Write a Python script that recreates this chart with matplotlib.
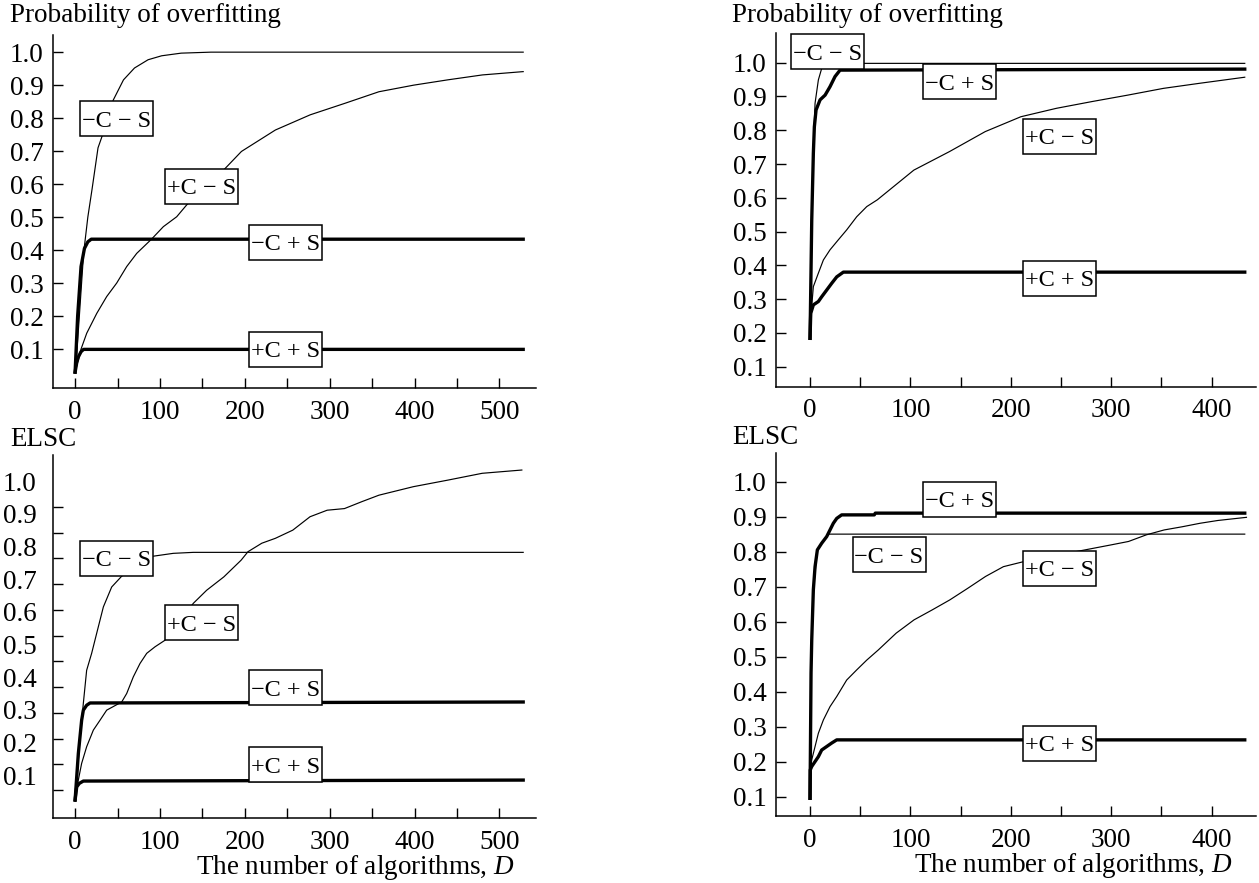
import matplotlib
matplotlib.use("Agg")
import matplotlib.pyplot as plt
from matplotlib.patches import Rectangle

plt.rcParams["font.family"] = ["Liberation Serif", "DejaVu Serif"]
plt.rcParams["mathtext.fontset"] = "custom"
plt.rcParams["mathtext.it"] = "Liberation Serif:italic"
plt.rcParams["mathtext.rm"] = "Liberation Serif"

W, H = 1259, 883
FS = 19.5

# ── data (D = number of algorithms) ──
# top-left: probability of overfitting
tl_d_mcms = [0, 2, 5, 10, 15, 20, 27, 33, 40, 45, 57, 70, 86, 102, 125, 160, 528]
tl_v_mcms = [0.03, 0.09, 0.2, 0.39, 0.5, 0.585, 0.71, 0.754, 0.82, 0.855, 0.916, 0.952, 0.977, 0.989, 0.997, 1.0, 1.0]
tl_d_mcps = [0, 3, 7, 11, 15, 19, 528]
tl_v_mcps = [0.03, 0.2, 0.35, 0.405, 0.425, 0.433, 0.433]
tl_d_pcms = [0, 3, 7, 13.7, 25.5, 37.2, 49, 60.8, 72.6, 90, 104, 119.7, 131.5, 177, 196, 236, 277, 318, 358, 399, 439, 480, 528]
tl_v_pcms = [0.03, 0.06, 0.1, 0.148, 0.208, 0.259, 0.30, 0.35, 0.39, 0.433, 0.471, 0.501, 0.537, 0.648, 0.699, 0.764, 0.81, 0.845, 0.88, 0.90, 0.916, 0.931, 0.941]
tl_d_pcps = [0, 2, 4, 7, 10, 528]
tl_v_pcps = [0.03, 0.06, 0.077, 0.092, 0.099, 0.099]

# top-right: probability of overfitting
tr_d_mcms = [0, 1.5, 3.3, 5, 8.3, 11.6, 15, 433]
tr_v_mcms = [0.184, 0.5, 0.75, 0.88, 0.949, 0.983, 0.998, 0.998]
tr_d_mcps = [0, 1.7, 3.3, 4.3, 6, 10, 15, 19.9, 24.9, 29.9, 433]
tr_v_mcps = [0.184, 0.534, 0.732, 0.81, 0.86, 0.89, 0.904, 0.929, 0.959, 0.978, 0.981]
tr_d_pcms = [0, 3.3, 8.3, 13.3, 19.9, 28, 36.5, 46.5, 56.5, 67, 103.4, 139, 174.5, 210, 245.5, 281, 316.5, 352, 388, 433]
tr_v_pcms = [0.22, 0.337, 0.377, 0.416, 0.446, 0.475, 0.505, 0.544, 0.574, 0.594, 0.682, 0.737, 0.796, 0.84, 0.865, 0.885, 0.904, 0.924, 0.939, 0.957]
tr_d_pcps = [0, 0.7, 3.3, 8.3, 11.6, 16.6, 21.6, 26.6, 33.2, 433]
tr_v_pcps = [0.184, 0.258, 0.283, 0.293, 0.307, 0.327, 0.347, 0.366, 0.38, 0.38]

# bottom-left: ELSC
bl_d_mcms = [0, 3, 6, 9.7, 13.6, 19.5, 25.4, 33.3, 43.1, 54.9, 91.4, 115.7, 139.3, 528]
bl_v_mcms = [0.02, 0.12, 0.22, 0.32, 0.421, 0.473, 0.534, 0.615, 0.676, 0.709, 0.77, 0.779, 0.782, 0.782]
bl_d_mcps = [0, 3.8, 7.7, 9.7, 13.6, 17.6, 528]
bl_v_mcps = [0.024, 0.166, 0.268, 0.299, 0.314, 0.321, 0.324]
bl_d_pcms = [0, 3.8, 7.7, 13.6, 21.5, 29.3, 37.2, 54.9, 60.8, 68.6, 76.5, 84.4, 94.2, 105.9, 139.3, 155, 175.3,
             195.6, 203.7, 220, 236, 256.5, 276.8, 297, 317.4, 337.7, 358, 398.5, 439, 479.7, 526.4]
bl_v_pcms = [0.024, 0.085, 0.136, 0.187, 0.238, 0.268, 0.299, 0.324, 0.35, 0.401, 0.442, 0.473, 0.493, 0.513, 0.626, 0.666, 0.707,
             0.758, 0.784, 0.81, 0.825, 0.85, 0.891, 0.911, 0.916, 0.937, 0.957, 0.983, 1.003, 1.024, 1.034]
bl_d_pcps = [0, 1.9, 5, 9.7, 528]
bl_v_pcps = [0.024, 0.064, 0.075, 0.082, 0.085]

# bottom-right: ELSC
br_d_mcms = [0, 1, 3.3, 7.3, 11.6, 16.6, 18.3, 433]
br_v_mcms = [0.095, 0.453, 0.691, 0.805, 0.824, 0.843, 0.85, 0.85]
br_d_mcps = [0, 1, 1.7, 3.3, 5, 7.3, 11.6, 16.6, 19.9, 23.2, 26.6, 31.5, 64, 65, 433]
br_v_mcps = [0.095, 0.453, 0.548, 0.691, 0.757, 0.805, 0.824, 0.843, 0.862, 0.881, 0.895, 0.905, 0.905, 0.91, 0.91]
br_d_pcms = [0, 1.7, 5, 8.3, 13.3, 19.9, 26.6, 36.5, 46.5, 56.5, 68, 85.8, 103.6, 121.4, 139.2, 157, 174.8, 192.6,
             212.2, 299.4, 317.2, 335, 352.8, 370.6, 388.4, 406.2, 434.7]
br_v_pcms = [0.167, 0.205, 0.243, 0.281, 0.319, 0.357, 0.386, 0.433, 0.462, 0.49, 0.519, 0.567, 0.605, 0.633, 0.662, 0.695, 0.729, 0.757,
             0.771, 0.819, 0.829, 0.848, 0.862, 0.871, 0.881, 0.889, 0.898]
br_d_pcps = [0, 0.2, 1.7, 5, 8.3, 11.6, 16.6, 21.6, 26.6, 33, 433]
br_v_pcps = [0.095, 0.176, 0.186, 0.2, 0.214, 0.233, 0.243, 0.253, 0.262, 0.262, 0.262]

y_labels = [0.1, 0.2, 0.3, 0.4, 0.5, 0.6, 0.7, 0.8, 0.9, 1.0]
MCMS, MCPS, PCMS, PCPS = "\u2212C \u2212 S", "\u2212C + S", "+C \u2212 S", "+C + S"
BOX_W, BOX_H = 73, 35  # label box size, px


def px_axes(fig, left, top, right, bottom):
    ax = fig.add_axes([left / W, 1 - bottom / H, (right - left) / W, (bottom - top) / H])
    ax._px = (right - left, bottom - top)
    return ax


def panel(ax, curves, boxes, xlim, ylim, xmax, bl_ticks=None):
    for d, v, thick in curves:
        ax.plot(d, v, color="black", lw=2.4 if thick else 0.85, solid_joinstyle="round", zorder=3)
    ax.set_xlim(*xlim); ax.set_ylim(*ylim)
    # box size in data units
    bw = BOX_W * (xlim[1] - xlim[0]) / ax._px[0]
    bh = BOX_H * (ylim[1] - ylim[0]) / ax._px[1]
    for txt, (bx, by) in boxes.items():
        ax.add_patch(Rectangle((bx - bw / 2, by - bh / 2), bw, bh, fc="white", ec="black",
                               lw=1.1, zorder=5, clip_on=False))
        ax.text(bx, by, txt, ha="center", va="center_baseline", fontsize=17.5, zorder=6)
    for s in ("top", "right"):
        ax.spines[s].set_visible(False)
    for s in ("left", "bottom"):
        ax.spines[s].set_linewidth(1.1)
    xt = list(range(0, xmax + 1, 50))
    ax.set_xticks(xt)
    ax.set_xticklabels([str(t) if t % 100 == 0 else "" for t in xt])
    ax.set_yticks(y_labels)
    ax.set_yticklabels([f"{t:.1f}" for t in y_labels])
    ax.tick_params(direction="in", length=7.5, width=1.0, labelsize=FS, colors="black")
    ax.tick_params(axis="x", pad=8.5)
    ax.tick_params(axis="y", pad=6.5)
    if bl_ticks is not None:
        # this panel has tick marks that do not line up with its labels
        ax.tick_params(axis="y", which="major", length=0, pad=11.5)
        ax.set_yticks(bl_ticks, minor=True)
        ax.tick_params(axis="y", which="minor", direction="in", length=7.5, width=1.0)
    ax.patch.set_alpha(0)


fig = plt.figure(figsize=(W / 100, H / 100), dpi=100, facecolor="white")

ax_tl = px_axes(fig, 52.7, 35, 535.5, 388.3)
panel(ax_tl,
      [(tl_d_mcms, tl_v_mcms, False), (tl_d_pcms, tl_v_pcms, False),
       (tl_d_mcps, tl_v_mcps, True), (tl_d_pcps, tl_v_pcps, True)],
      {MCMS: (48.9, 0.798), PCMS: (149.5, 0.594), MCPS: (248, 0.424), PCPS: (248, 0.1)},
      (-26.4, 542.5), (-0.019, 1.052), 500)

ax_tr = px_axes(fig, 775.5, 33.3, 1256, 386.5)
panel(ax_tr,
      [(tr_d_mcms, tr_v_mcms, False), (tr_d_pcms, tr_v_pcms, False),
       (tr_d_mcps, tr_v_mcps, True), (tr_d_pcps, tr_v_pcps, True)],
      {MCMS: (17.6, 1.032), MCPS: (148.7, 0.944), PCMS: (248.5, 0.782), PCPS: (248.9, 0.362)},
      (-34.4, 444.2), (0.0414, 1.087), 400)

bl_tick_marks = [1.0 - 0.07882 * k for k in range(13)]
ax_bl = px_axes(fig, 52.7, 455, 535.5, 818.3)
panel(ax_bl,
      [(bl_d_mcms, bl_v_mcms, False), (bl_d_pcms, bl_v_pcms, False),
       (bl_d_mcps, bl_v_mcps, True), (bl_d_pcps, bl_v_pcps, True)],
      {MCMS: (48.9, 0.764), PCMS: (149.5, 0.567), MCPS: (248, 0.368), PCPS: (248, 0.132)},
      (-26.4, 542.5), (-0.032, 1.08), 500, bl_ticks=bl_tick_marks)

ax_br = px_axes(fig, 775.5, 453.3, 1256, 815.8)
panel(ax_br,
      [(br_d_mcms, br_v_mcms, False), (br_d_pcms, br_v_pcms, False),
       (br_d_mcps, br_v_mcps, True), (br_d_pcps, br_v_pcps, True)],
      {MCPS: (148.7, 0.95), MCMS: (78.7, 0.791), PCMS: (248.5, 0.753), PCPS: (248.9, 0.252)},
      (-34.4, 444.2), (0.045, 1.081), 400)

# panel titles and axis captions
for x, y, s in [(10.3, 15, "Probability of overfitting"), (732, 15, "Probability of overfitting"),
                (10.3, 440, "ELSC"), (732, 438, "ELSC")]:
    fig.text(x / W, 1 - y / H, s, ha="left", va="center", fontsize=19.5)
for x, y in [(514.9, 867.5), (1233, 866)]:
    fig.text(x / W, 1 - y / H, r"The number of algorithms, $D$", ha="right", va="center", fontsize=19.5)

fig.savefig("out.png", dpi=100, facecolor="white")
